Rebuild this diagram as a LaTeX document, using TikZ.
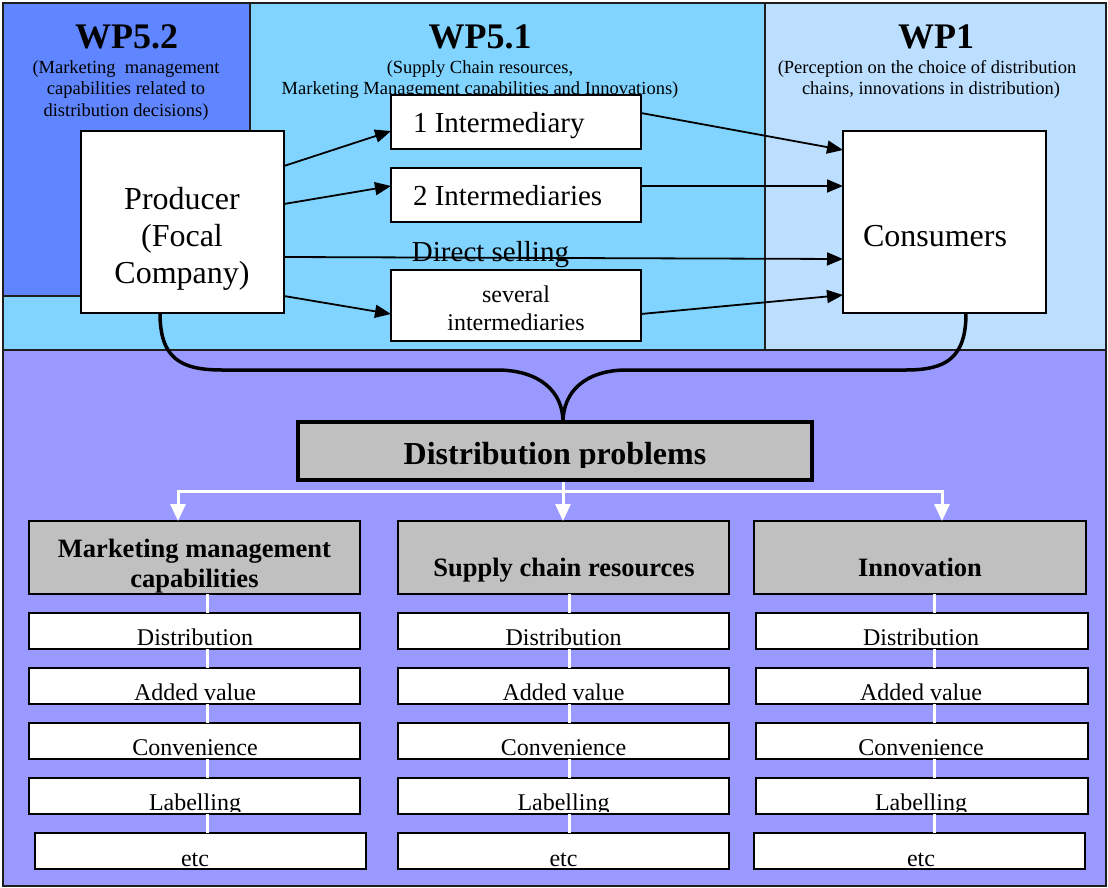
\documentclass[tikz,border=0pt]{standalone}
\usepackage{fontspec}
\setmainfont{Liberation Serif}
\usetikzlibrary{arrows.meta,calc}

\definecolor{wpfivetwo}{RGB}{96,134,255}
\definecolor{wpfiveone}{RGB}{128,212,255}
\definecolor{wpone}{RGB}{188,222,255}
\definecolor{lowerpanel}{RGB}{153,153,255}
\definecolor{headgray}{RGB}{192,192,192}
\definecolor{edge}{RGB}{30,30,30}

\newcommand\fs[1]{\fontsize{#1}{#1}\selectfont}

\begin{document}
\begin{tikzpicture}[x=1pt,y=-1pt,
  panel/.style={draw=edge, line width=1.5pt},
  box/.style={draw=black, fill=white, line width=1.5pt, anchor=north west,
              inner sep=0pt, outer sep=0pt},
  headbox/.style={box, fill=headgray, minimum width=331pt, minimum height=73pt},
  txt/.style={anchor=base, inner sep=0pt, outer sep=0pt},
  flow/.style={draw=black, line width=1.8pt, -{Triangle[length=16pt,width=13pt]}},
  brace/.style={draw=black, line width=3.5pt},
  whiteline/.style={draw=white, line width=3pt},
  whitearrow/.style={whiteline, -{Triangle[length=17pt,width=15pt]}},
  spine/.style={draw=white, line width=3pt},
]
\useasboundingbox (0,0) rectangle (1108,888);

% work package panels
\path[panel, fill=wpfiveone] (3,3) rectangle (765,350);
\path[panel, fill=wpfivetwo] (3,3) rectangle (250,296);
\path[panel, fill=wpone] (765,3) rectangle (1106,350);
\path[panel, fill=lowerpanel] (3,350) rectangle (1106,886);
\draw[draw=edge, line width=2pt] (3,3) rectangle (1106,886);

% panel headings
\node[txt, font=\fs{36}\bfseries] (wp52) at (126.5,49) {WP5.2};
\node[txt, font=\fs{18.5}] (wp52a) at (126,74) {(Marketing\ \ management};
\node[txt, font=\fs{18.5}] (wp52b) at (126,95) {capabilities related to};
\node[txt, font=\fs{18.5}] (wp52c) at (126,117) {distribution decisions)};

\node[txt, font=\fs{36}\bfseries] (wp51) at (480,49) {WP5.1};
\node[txt, font=\fs{18.5}] (wp51a) at (480,74) {(Supply Chain resources,};
\node[txt, font=\fs{18.5}] (wp51b) at (480,95) {Marketing Management capabilities and Innovations)};

\node[txt, font=\fs{36}\bfseries] (wp1) at (936,49) {WP1};
\node[txt, font=\fs{18.5}] (wp1a) at (927,74) {(Perception on the choice of distribution};
\node[txt, font=\fs{18.5}] (wp1b) at (931,95) {chains, innovations in distribution)};

% distribution chain
\node[box, minimum width=203pt, minimum height=182pt] (producer) at (81,131) {};
\node[txt, font=\fs{32}] (prod1) at (182,209) {Producer};
\node[txt, font=\fs{32}] (prod2) at (182,246) {(Focal};
\node[txt, font=\fs{32}] (prod3) at (182,283) {Company)};

\node[box, minimum width=250pt, minimum height=54pt] (int1) at (391,95) {};
\node[txt, anchor=base west, font=\fs{29}] (int1t) at (413,132) {1 Intermediary};
\node[box, minimum width=250pt, minimum height=54pt] (int2) at (391,168) {};
\node[txt, anchor=base west, font=\fs{29}] (int2t) at (413,205) {2 Intermediaries};
\node[box, minimum width=250pt, minimum height=71pt] (several) at (391,270) {};
\node[txt, font=\fs{24}] (sev1) at (516,302) {several};
\node[txt, font=\fs{24}] (sev2) at (516,330) {intermediaries};

\node[box, minimum width=203pt, minimum height=182pt] (consumers) at (843,131) {};
\node[txt, font=\fs{32}] (cons) at (935,246) {Consumers};

\node[txt, font=\fs{29}] (direct) at (490.5,261) {Direct selling};

\draw[flow] (producer.east |- 0,166) -- (int1.west |- 0,131);
\draw[flow] (producer.east |- 0,204) -- (int2.west |- 0,186);
\draw[flow] (producer.east |- 0,257) -- (consumers.west |- 0,259);
\draw[flow] (producer.east |- 0,296) -- (several.west |- 0,314);
\draw[flow] (int1.east |- 0,113) -- (consumers.west |- 0,150);
\draw[flow] (int2.east |- 0,186) -- (consumers.west |- 0,186);
\draw[flow] (several.east |- 0,314) -- (consumers.west |- 0,295);

% distribution problems
\node[box, fill=headgray, line width=3.5pt, minimum width=514pt, minimum height=58pt] (dp) at (298,422) {};
\begin{scope}
  \clip (dp.north west) rectangle (812,467);
  \node[txt, font=\fs{32}\bfseries] (dpt) at (555,464) {Distribution problems};
\end{scope}

\coordinate (split) at (563,491);

\draw[brace] (producer.south -| 160,0) .. controls (160,358) and (180,370) .. (222,370)
  -- (497,370) .. controls (540,370) and (563,392) .. (dp.north -| split);
\draw[brace] (consumers.south -| 966,0) .. controls (966,358) and (946,370) .. (906,370)
  -- (627,370) .. controls (585,370) and (563,392) .. (dp.north -| split);

% problem areas
\node[headbox] (hm) at (29,521) {};
\node[headbox] (hs) at (398,521) {};
\node[headbox, minimum width=332pt] (hi) at (754,521) {};
\node[txt, font=\fs{26.5}\bfseries] (hm1) at (194.5,557) {Marketing management};
\node[txt, font=\fs{26.5}\bfseries] (hm2) at (194.5,587) {capabilities};
\node[txt, font=\fs{26.5}\bfseries] (hs1) at (564,576) {Supply chain resources};
\node[txt, font=\fs{26.5}\bfseries] (hi1) at (920,576) {Innovation};

\draw[whiteline] ([yshift=-1.75pt]dp.south -| split) -- (split);
\draw[whitearrow] (split) -| (hm.north -| 178,0);
\draw[whitearrow] (split) -| (hi.north -| 942,0);
\draw[whitearrow] (split) -- (hs.north -| split);

% problem items in each area
\foreach \col/\xl/\xe/\xt/\xw/\bw in {m/29/35/195/207/331, s/398/398/563.5/569/331, i/756/754/921/934/332} {
  \foreach \row/\yt/\lbl in {1/613/Distribution, 2/668/Added value, 3/723/Convenience, 4/778/Labelling} {
    \node[box, minimum width=\bw pt, minimum height=36pt] (\col\row) at (\xl,\yt) {};
    \begin{scope}
      \clip (\col\row.north west) rectangle ([yshift=3pt]\col\row.south east);
      \node[txt, font=\fs{24}] (\col\row-label) at (\xt,\yt+32) {\lbl};
    \end{scope}
  }
  \node[box, minimum width=331pt, minimum height=36pt] (\col5) at (\xe,833) {};
  \node[txt, font=\fs{24}] (\col5-label) at (\xt,866) {etc};
  \draw[spine] (h\col.south -| \xw,0) -- (\col1.north -| \xw,0)
               (\col1.south -| \xw,0) -- (\col2.north -| \xw,0)
               (\col2.south -| \xw,0) -- (\col3.north -| \xw,0)
               (\col3.south -| \xw,0) -- (\col4.north -| \xw,0)
               (\col4.south -| \xw,0) -- (\col5.north -| \xw,0);
}
\end{tikzpicture}
\end{document}
